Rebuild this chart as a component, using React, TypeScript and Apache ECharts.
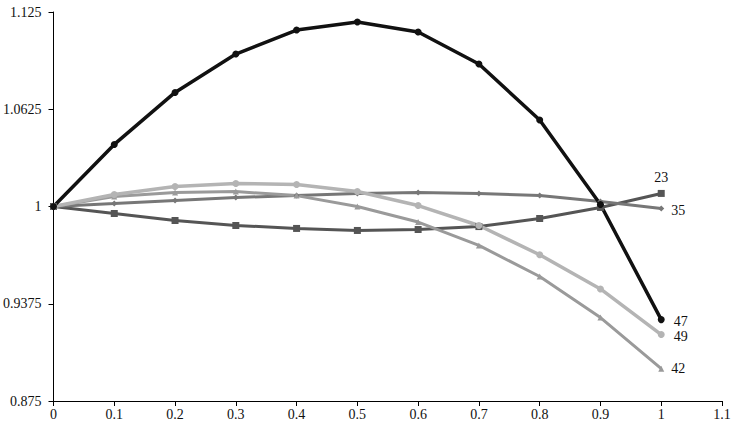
import React, { useEffect, useRef } from "react";
import * as echarts from "echarts";

const xValues = [0, 0.1, 0.2, 0.3, 0.4, 0.5, 0.6, 0.7, 0.8, 0.9, 1.0];
const s47 = [1, 1.0399, 1.0733, 1.098, 1.1134, 1.1186, 1.1121, 1.0916, 1.0556, 1.0013, 0.9273];
const s49 = [1, 1.0077, 1.0129, 1.0148, 1.0141, 1.0096, 1.0006, 0.9878, 0.969, 0.947, 0.9177];
const s42 = [1, 1.0064, 1.009, 1.0096, 1.007, 1.0, 0.990, 0.975, 0.955, 0.9286, 0.8958];
const s35 = [1, 1.0019, 1.0039, 1.0058, 1.007, 1.0084, 1.009, 1.0084, 1.007, 1.0032, 0.9987];
const s23 = [1, 0.9955, 0.991, 0.9878, 0.9859, 0.9846, 0.9852, 0.9871, 0.9923, 0.9994, 1.0084];
const seriesNames = ["47", "49", "42", "35", "23"];

const FONT = "'Liberation Serif', 'Times New Roman', serif";

export default function App() {
  const ref = useRef<HTMLDivElement>(null);
  useEffect(() => {
    if (!ref.current) return;
    const chart = echarts.init(ref.current, undefined, { renderer: "svg" });
    const mk = (
      name: string,
      vals: number[],
      color: string,
      symbol: string,
      size: number,
      width: number,
      labelPos: any,
      labelOffset: number[]
    ) => ({
      name,
      type: "line",
      data: vals.map((v, i) => {
        const item: any = { value: [xValues[i], v] };
        if (i === vals.length - 1) {
          item.label = {
            show: true,
            formatter: name,
            position: labelPos,
            offset: labelOffset,
            color: "#111",
            fontFamily: FONT,
            fontSize: 14,
          };
        }
        return item;
      }),
      symbol,
      symbolSize: size,
      showSymbol: true,
      lineStyle: { color, width },
      itemStyle: { color },
      z: 2,
    });
    chart.setOption({
      animation: false,
      grid: { left: 49, top: 12, right: 15, bottom: 27 },
      xAxis: {
        type: "value",
        min: 0,
        max: 1.1,
        interval: 0.1,
        axisLine: { show: true, onZero: false, lineStyle: { color: "#000", width: 1 } },
        axisTick: { show: true, length: 5, lineStyle: { color: "#000" } },
        splitLine: { show: false },
        axisLabel: {
          color: "#111",
          fontFamily: FONT,
          fontSize: 14,
          margin: 6,
          formatter: (v: number) => String(+v.toFixed(2)),
        },
      },
      yAxis: {
        type: "value",
        min: 0.875,
        max: 1.125,
        interval: 0.0625,
        axisLine: { show: true, onZero: false, lineStyle: { color: "#000", width: 1 } },
        axisTick: { show: true, length: 5, lineStyle: { color: "#000" } },
        splitLine: { show: false },
        axisLabel: {
          color: "#111",
          fontFamily: FONT,
          fontSize: 14,
          margin: 12,
          formatter: (v: number) => String(+v.toFixed(4)),
        },
      },
      series: [
        mk(seriesNames[4], s23, "#555555", "rect", 7, 3, "top", [0, 0]),
        mk(seriesNames[3], s35, "#777777", "diamond", 6, 3, "right", [2, 2]),
        mk(seriesNames[2], s42, "#9a9a9a", "triangle", 6, 3, "right", [2, 0]),
        mk(seriesNames[1], s49, "#b4b4b4", "circle", 7, 3.5, "right", [4, 2]),
        mk(seriesNames[0], s47, "#111111", "circle", 7, 3.5, "right", [4, 2]),
      ],
    });
    return () => chart.dispose();
  }, []);
  return <div ref={ref} style={{ width: 737, height: 428, position: "absolute", left: 0, top: 0 }} />;
}
